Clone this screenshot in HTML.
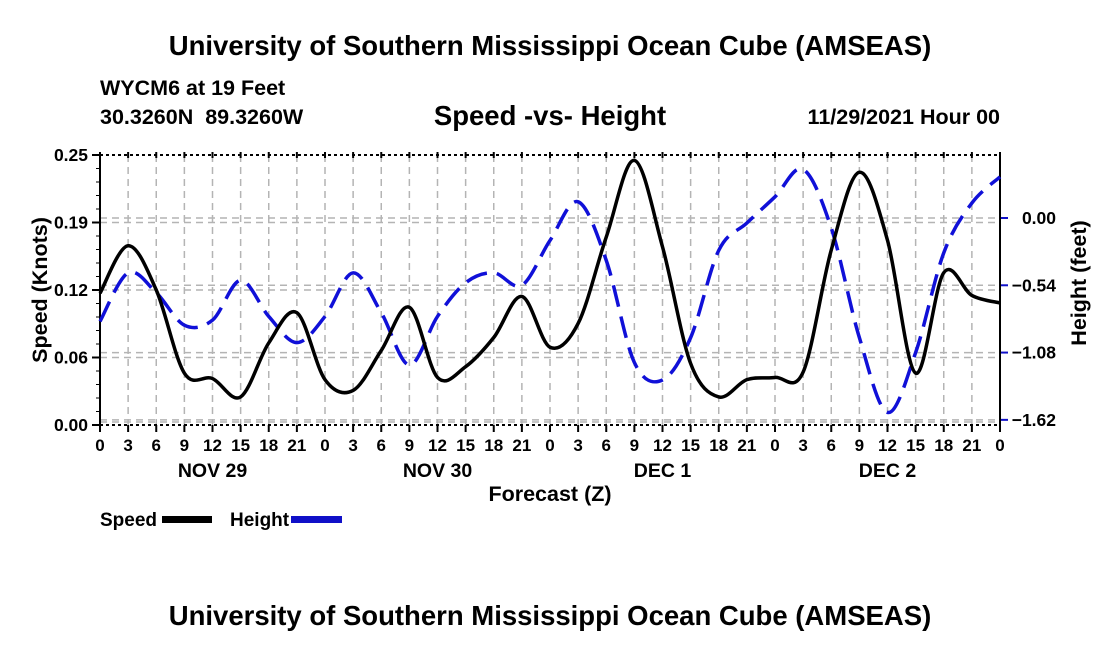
<!DOCTYPE html>
<html><head><meta charset="utf-8"><style>
body{margin:0;background:#fff;}
svg text{font-family:"Liberation Sans",Arial,sans-serif;font-weight:bold;fill:#000;}
</style></head><body>
<svg id="c" width="1100" height="650" xmlns="http://www.w3.org/2000/svg">
<text x="550" y="55" text-anchor="middle" font-size="27.5">University of Southern Mississippi Ocean Cube (AMSEAS)</text>
<text x="100" y="95" font-size="21.5">WYCM6 at 19 Feet</text>
<text x="100" y="124" font-size="21.5" xml:space="preserve">30.3260N  89.3260W</text>
<text x="550" y="125" text-anchor="middle" font-size="27.5">Speed -vs- Height</text>
<text x="1000" y="124" text-anchor="end" font-size="21.5">11/29/2021 Hour 00</text>
<text x="550" y="625" text-anchor="middle" font-size="27.5">University of Southern Mississippi Ocean Cube (AMSEAS)</text>
<text transform="translate(47,290) rotate(-90)" text-anchor="middle" font-size="21.5">Speed (Knots)</text>
<text transform="translate(1086,283) rotate(-90)" text-anchor="middle" font-size="21.5">Height (feet)</text>
<text x="550" y="501" text-anchor="middle" font-size="21.5">Forecast (Z)</text>
<g id="grid"></g><g id="axes"></g><g id="series"></g>
<g>
<text x="100" y="526" font-size="19">Speed</text>
<rect x="162" y="516" width="50" height="7" fill="#000"/>
<text x="230" y="526" font-size="19">Height</text>
<rect x="291" y="516" width="51" height="7" fill="#1010c8"/>
</g>
</svg>
<script>
const hours=[0,3,6,9,12,15,18,21,24,27,30,33,36,39,42,45,48,51,54,57,60,63,66,69,72,75,78,81,84,87,90,93,96];
const speedVals=[.122,.166,.125,.048,.043,.026,.076,.104,.042,.032,.069,.109,.044,.054,.081,.119,.072,.094,.174,.245,.165,.057,.026,.042,.044,.049,.162,.234,.171,.048,.141,.120,.113];
const heightVals=[-.83,-.44,-.60,-.86,-.82,-.50,-.79,-1.00,-.79,-.44,-.76,-1.18,-.79,-.52,-.44,-.54,-.18,.13,-.34,-1.16,-1.30,-.96,-.26,-.04,.17,.39,-.08,-.96,-1.56,-1.08,-.28,.12,.33];
const speedTicks=[0,0.0625,0.125,0.1875,0.25];
const speedTickLabels=["0.00","0.06","0.12","0.19","0.25"];
const heightTicks=[0,-0.54,-1.08,-1.62];
const heightTickLabels=["0.00","\u22120.54","\u22121.08","\u22121.62"];
const dayLabels=["NOV 29","NOV 30","DEC 1","DEC 2"];
const L=100,R=1000,T=155,B=425;
const NS="http://www.w3.org/2000/svg";
const xs=h=>L+(h/96)*(R-L);
const ys=v=>B-(v/0.25)*(B-T);
const yh=v=>218-v*124.6;
function mk(p,tag,attrs){const e=document.createElementNS(NS,tag);for(const k in attrs)e.setAttribute(k,attrs[k]);p.appendChild(e);return e;}
const grid=document.getElementById('grid'),axes=document.getElementById('axes'),ser=document.getElementById('series');
for(let h=3;h<96;h+=3){const l=mk(grid,'line',{x1:xs(h),x2:xs(h),y1:T,y2:B,stroke:'#b4b4b4','stroke-width':1.5,'stroke-dasharray':'7,5'});

}
speedTicks.forEach((v,i)=>{if(i>0&&i<4){const l=mk(grid,'line',{x1:L,x2:R,y1:ys(v),y2:ys(v),stroke:'#b4b4b4','stroke-width':1.5,'stroke-dasharray':'7,5'});

}
if(i==0){const l=mk(grid,'line',{x1:L,x2:R,y1:ys(v)-3,y2:ys(v)-3,stroke:'#b4b4b4','stroke-width':1.5,'stroke-dasharray':'7,5'});}
const t=mk(axes,'text',{x:L-12,y:ys(v)+6,'text-anchor':'end','font-size':17.5});t.textContent=speedTickLabels[i];


mk(axes,'line',{x1:L-8,x2:L,y1:ys(v),y2:ys(v),stroke:'#000','stroke-width':2});});
for(let v=0;v<=0.25;v+=0.0125)mk(axes,'line',{x1:L-4,x2:L,y1:ys(v),y2:ys(v),stroke:'#000','stroke-width':1});
heightTicks.forEach((v,i)=>{const l=mk(grid,'line',{x1:L,x2:R,y1:yh(v),y2:yh(v),stroke:'#b4b4b4','stroke-width':1.5,'stroke-dasharray':'7,5'});


mk(axes,'line',{x1:R,x2:R+8,y1:yh(v),y2:yh(v),stroke:'#1010c8','stroke-width':2});
const t=mk(axes,'text',{x:R+56,y:yh(v)+6,'text-anchor':'end','font-size':17.5});t.textContent=heightTickLabels[i];

});
mk(axes,'line',{x1:L,x2:R,y1:T,y2:T,stroke:'#000','stroke-width':2,'stroke-dasharray':'3,3'});
mk(axes,'line',{x1:L,x2:R,y1:B,y2:B,stroke:'#000','stroke-width':2,'stroke-dasharray':'3,3'});
mk(axes,'line',{x1:L,x2:L,y1:T,y2:B,stroke:'#000','stroke-width':2});
mk(axes,'line',{x1:R,x2:R,y1:T,y2:B,stroke:'#000','stroke-width':2});
for(let h=0;h<=96;h+=3){mk(axes,'line',{x1:xs(h),x2:xs(h),y1:B,y2:B+7,stroke:'#000','stroke-width':2});
mk(axes,'line',{x1:xs(h),x2:xs(h),y1:T-3,y2:T+3,stroke:'#000','stroke-width':2});
const t=mk(axes,'text',{x:xs(h),y:451,'text-anchor':'middle','font-size':17});t.textContent=String(h%24);

}
dayLabels.forEach((d,i)=>{const t=mk(axes,'text',{x:xs(i*24+12),y:477,'text-anchor':'middle','font-size':19.5});t.textContent=d;

});
function path(pts){let d=`M${pts[0][0]},${pts[0][1]}`;for(let i=0;i<pts.length-1;i++){const p0=pts[i-1]||pts[i],p1=pts[i],p2=pts[i+1],p3=pts[i+2]||p2;
d+=` C${p1[0]+(p2[0]-p0[0])/6},${p1[1]+(p2[1]-p0[1])/6} ${p2[0]-(p3[0]-p1[0])/6},${p2[1]-(p3[1]-p1[1])/6} ${p2[0]},${p2[1]}`;}return d;}
const hp=mk(ser,'path',{d:path(hours.map((h,i)=>[xs(h),yh(heightVals[i])])),fill:'none',stroke:'#1010d8','stroke-width':3.5,'stroke-dasharray':'22,10'});


const sp=mk(ser,'path',{d:path(hours.map((h,i)=>[xs(h),ys(speedVals[i])])),fill:'none',stroke:'#000','stroke-width':3.5});


</script>
</body></html>
